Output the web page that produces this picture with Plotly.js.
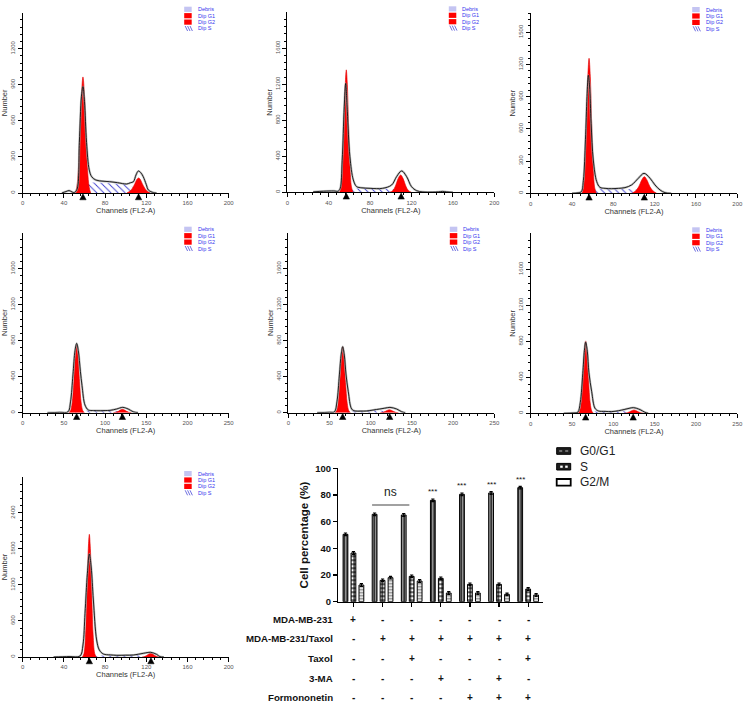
<!DOCTYPE html>
<html><head><meta charset="utf-8">
<script src="https://cdn.plot.ly/plotly-3.0.1.min.js"></script>
<style>html,body{margin:0;padding:0;background:#fff}#chart{width:745px;height:706px}</style>
</head><body><div id="chart"></div>
<script>
// ================= DATA =================
// Flow cytometry histograms (7 panels).
// Measured histogram outline (channel, count)
const outlineX = [
  [38, 42, 45, 48, 50, 52.7, 55, 57, 58.5, 60, 62, 64.6, 67, 71, 78, 84.5, 92, 101, 104.5, 107.5, 110, 112.3, 115, 117, 120, 122, 127, 130],
  [25, 35, 45, 49, 51, 53, 55, 56.4, 58, 60.5, 63.8, 67, 72, 80, 92, 100.8, 105.6, 110.5, 115.3, 120, 125, 131, 140, 146, 150, 154, 160],
  [40, 46, 49, 51, 53, 54.5, 55.8, 57, 58.5, 60.6, 63.9, 67, 72, 78.4, 85, 91.3, 97.7, 104.2, 109.7, 115.5, 120.3, 125.2, 130, 136],
  [30, 45, 55, 58, 61, 63.5, 65.5, 67.5, 70, 72, 75.6, 79.7, 86, 94, 100, 106, 114, 121.4, 128, 134, 140],
  [35, 50, 56, 59, 62, 64.2, 66, 68, 70, 72.8, 76.9, 81, 88, 95, 103, 111, 117, 123.4, 131.5, 137.5, 142],
  [40, 52, 57, 60, 63, 65, 66.5, 68.5, 70.5, 73.8, 77.8, 81.9, 90, 98, 106, 114, 119, 124.2, 132.3, 138.3, 142.3],
  [30, 45, 55.7, 58.5, 60.5, 62.8, 64.7, 66.5, 68.6, 71.8, 74.4, 78.3, 85, 91.3, 100, 107.4, 117, 124.3, 130, 133.3, 137]
];
const outlineY = [
  [0, 12, 20, 8, 4, 30, 420, 800, 885, 760, 420, 192, 135, 108, 98, 94, 86, 75, 85, 94, 150, 183, 165, 136, 70, 25, 3, 0],
  [5, 12, 15, 12, 40, 350, 950, 1210, 900, 396, 137, 63, 50, 44, 44, 81, 174, 237, 174, 63, 18, 4, 2, 5, 10, 5, 0],
  [0, 5, 15, 120, 500, 900, 1100, 1000, 650, 310, 109, 56, 46, 43, 46, 53, 78, 140, 186, 140, 78, 31, 6, 0],
  [0, 4, 10, 120, 420, 690, 770, 690, 460, 300, 85, 30, 24, 22, 24, 26, 41, 59, 41, 11, 0],
  [0, 5, 10, 120, 420, 650, 733, 640, 430, 233, 41, 19, 18, 19, 30, 41, 50, 59, 41, 11, 0],
  [0, 4, 12, 120, 440, 700, 790, 690, 450, 240, 56, 26, 21, 19, 28, 44, 55, 63, 41, 11, 0],
  [0, 8, 17, 200, 728, 1394, 1717, 1500, 950, 283, 117, 50, 35, 28, 30, 33, 61, 78, 44, 6, 0]
];
// Dip G1 fitted peak
const g1X = [
  [51, 52.5, 54, 55.5, 57, 58.5, 60, 61.5, 63, 64.5, 66],
  [50.5, 52, 53.5, 55, 56, 57, 58, 59, 60.5, 62, 63.5],
  [49.5, 51, 52.5, 54, 55.3, 56.5, 57.7, 59, 60.5, 62, 63.5],
  [56, 58, 60, 62, 64, 65.5, 67, 69, 71, 73, 75],
  [56.5, 58.5, 60.5, 62.5, 64.5, 66, 67.5, 69.5, 71.5, 73.5, 75.5],
  [57, 59, 61, 63, 65, 66.5, 68, 70, 72, 74, 76],
  [58, 59.5, 61, 62.5, 63.7, 64.7, 65.7, 66.9, 68.4, 69.9, 71.4]
];
const g1Y = [
  [0, 50, 190, 470, 810, 965, 810, 470, 190, 50, 0],
  [0, 60, 300, 820, 1200, 1360, 1200, 820, 300, 60, 0],
  [0, 50, 240, 660, 1090, 1258, 1090, 660, 240, 50, 0],
  [0, 21, 109, 344, 652, 752, 652, 344, 109, 21, 0],
  [0, 21, 106, 335, 635, 733, 635, 335, 106, 21, 0],
  [0, 23, 116, 368, 697, 804, 697, 368, 116, 23, 0],
  [0, 60, 370, 1120, 1810, 2044, 1810, 1120, 370, 60, 0]
];
// Dip G2 fitted peak
const g2X = [
  [101, 104, 106.5, 109, 111, 112.5, 114, 116, 118.5, 121, 124],
  [99, 102, 104.5, 107, 109.5, 112, 114.5, 117, 120],
  [98, 101.5, 104.5, 107.5, 110, 112.5, 115.5, 118.5, 122],
  [110, 113.5, 116.5, 119, 121, 123, 125.5, 128.5, 132],
  [111.5, 115, 118, 120.5, 122.6, 124.7, 127.2, 130.2, 133.7],
  [113, 117, 120, 123, 125, 127, 130, 133, 137],
  [116, 118.5, 120.5, 122.5, 124.3, 126.1, 128.1, 130.1, 132.6]
];
const g2Y = [
  [0, 15, 40, 80, 115, 125, 115, 80, 40, 15, 0],
  [0, 20, 70, 150, 193, 150, 70, 20, 0],
  [0, 22, 60, 125, 155, 125, 60, 22, 0],
  [0, 6, 18, 32, 37, 32, 18, 6, 0],
  [0, 5, 16, 28, 33, 28, 16, 5, 0],
  [0, 6, 18, 32, 37, 32, 18, 6, 0],
  [0, 8, 27, 50, 61, 50, 27, 8, 0]
];
// Dip S fitted region
const sX = [
  [57, 60, 63, 66, 75, 85, 95, 102, 106, 110, 114],
  [54, 58, 62, 70, 80, 90, 100, 105, 108, 111],
  [53, 57, 62, 70, 80, 90, 98, 104, 108, 112],
  [63, 68, 73, 80, 90, 100, 108, 114, 118, 122],
  [64, 69, 74, 80, 90, 100, 110, 116, 120, 124],
  [64, 69, 74, 80, 90, 100, 110, 117, 121, 125],
  [62, 66, 70, 78, 90, 100, 110, 116, 120, 124]
];
const sY = [
  [0, 40, 75, 85, 86, 82, 75, 68, 55, 25, 0],
  [0, 25, 40, 42, 42, 40, 38, 30, 15, 0],
  [0, 25, 40, 42, 42, 40, 38, 32, 15, 0],
  [0, 15, 22, 24, 24, 24, 23, 18, 8, 0],
  [0, 12, 18, 20, 22, 26, 25, 18, 8, 0],
  [0, 12, 18, 20, 22, 25, 26, 20, 8, 0],
  [0, 15, 22, 25, 25, 26, 28, 22, 10, 0]
];
// Peak means (triangle markers)
const g1Mean = [58.5, 57, 56.5, 65.5, 66, 66.5, 64.7];
const g2Mean = [112.5, 110, 110, 121, 123, 124, 124.5];
const histLegend = ['Debris', 'Dip G1', 'Dip G2', 'Dip S'];

// Bar chart
const phases = ['G0/G1', 'S', 'G2/M'];
const g0g1 = [50.5, 65.5, 65, 76, 80.5, 81.5, 85.5];
const sPhase = [36.5, 16, 19, 17.5, 13, 13, 9.5];
const g2m = [12.5, 18, 15.5, 6.5, 6.5, 5.5, 5];
const g0g1Err = [1, 1, 1, 1, 1, 1, 1];
const sErr = [1, 1, 1, 1, 1, 1, 1];
const g2mErr = [1, 1, 1, 1, 1, 1, 1];
const sigLabels = ['', '', '', '***', '***', '***', '***'];
const groupIdx = [0, 1, 2, 3, 4, 5, 6];
const yTicks = [0, 20, 40, 60, 80, 100];

// Treatment table
const rowNames = ['MDA-MB-231', 'MDA-MB-231/Taxol', 'Taxol', '3-MA', 'Formononetin'];
const rowMDA = ['+', '-', '-', '-', '-', '-', '-'];
const rowMDATaxol = ['-', '+', '+', '+', '+', '+', '+'];
const rowTaxol = ['-', '-', '+', '-', '-', '-', '+'];
const rowMA = ['-', '-', '-', '+', '-', '+', '-'];
const rowFormo = ['-', '-', '-', '-', '+', '+', '+'];
const tableRows = [rowMDA, rowMDATaxol, rowTaxol, rowMA, rowFormo];

// ================= LAYOUT HELPERS =================
const W = 745, H = 706;
const FONT = 'Liberation Sans, Arial, Helvetica, sans-serif';
const px2x = p => p / W;
const px2y = p => 1 - p / H;

const boxes = [
  {l: 22.7, r: 228.7, t: 12.7, b: 193},
  {l: 287.3, r: 494.3, t: 12.3, b: 192.3},
  {l: 530.7, r: 737.3, t: 13, b: 193.3},
  {l: 22.7, r: 228.7, t: 232.7, b: 412.7},
  {l: 288.3, r: 494.3, t: 232.7, b: 412.7},
  {l: 530.7, r: 737.3, t: 233.3, b: 413.3},
  {l: 22.7, r: 228.7, t: 477, b: 657}
];
const xMax = [200, 200, 200, 250, 250, 250, 200];
const xDtick = [40, 40, 40, 50, 50, 50, 40];
const yMax = [1499, 1999, 1680, 1999, 1999, 1999, 2999];
const yDtick = [300, 400, 300, 400, 400, 400, 600];

const traces = [];
const layout = {
  width: W, height: H, autosize: false,
  margin: {l: 0, r: 0, t: 0, b: 0, pad: 0},
  paper_bgcolor: '#fff', plot_bgcolor: 'rgba(0,0,0,0)',
  showlegend: false,
  font: {family: FONT, color: '#222'},
  barmode: 'group', bargap: 0.18, bargroupgap: 0.4,
  shapes: [], annotations: []
};

for (let i = 0; i < 7; i++) {
  const n = i === 0 ? '' : String(i + 1);
  const xa = 'x' + n, ya = 'y' + n;
  const b = boxes[i];
  const common = {xaxis: xa, yaxis: ya, hoverinfo: 'skip', showlegend: false};
  // S region (hatched)
  traces.push(Object.assign({
    type: 'scatter', mode: 'lines', x: sX[i], y: sY[i],
    fill: 'tozeroy', fillcolor: 'rgba(255,255,255,0)',
    fillpattern: {shape: '\\', fgcolor: '#3c3cd0', bgcolor: 'rgba(255,255,255,0)', size: 5, solidity: 0.18},
    line: {width: 0, shape: 'spline', color: '#3c3cd0'}
  }, common));
  // G1 and G2 peaks
  [[g1X[i], g1Y[i]], [g2X[i], g2Y[i]]].forEach(([px, py]) => {
    traces.push(Object.assign({
      type: 'scatter', mode: 'lines', x: px, y: py,
      fill: 'tozeroy', fillcolor: '#ff0000',
      line: {width: 0.6, shape: 'spline', color: '#e00000'}
    }, common));
  });
  // outline halo + outline
  traces.push(Object.assign({
    type: 'scatter', mode: 'lines', x: outlineX[i], y: outlineY[i],
    line: {width: 2.2, shape: 'spline', color: 'rgba(170,170,170,0.75)'}
  }, common));
  traces.push(Object.assign({
    type: 'scatter', mode: 'lines', x: outlineX[i], y: outlineY[i],
    line: {width: 0.9, shape: 'spline', color: '#111'}
  }, common));

  // peak triangles just under the x axis (x in data, y in paper)
  const hw = 3.2 * xMax[i] / (b.r - b.l);
  [g1Mean[i], g2Mean[i]].forEach(m => {
    const yTip = px2y(b.b + 0.8), yBase = px2y(b.b + 6.8);
    layout.shapes.push({type: 'path', xref: xa, yref: 'paper', layer: 'above',
      path: `M${m - hw},${yBase} L${m},${yTip} L${m + hw},${yBase} Z`,
      fillcolor: '#000', line: {color: '#000', width: 0.5}});
  });

  layout['xaxis' + n] = {
    domain: [px2x(b.l), px2x(b.r)], anchor: ya,
    range: [0, xMax[i]], tickmode: 'linear', tick0: 0, dtick: xDtick[i],
    ticks: 'outside', ticklen: 4, tickwidth: 1, tickcolor: '#000',
    minor: {dtick: xDtick[i] / 5, tick0: 0, ticks: 'outside', ticklen: 2, tickwidth: 1, tickcolor: '#000'},
    showline: true, linecolor: '#000', linewidth: 1, showgrid: false, zeroline: false,
    tickfont: {family: FONT, size: 6, color: '#555'},
    title: {text: 'Channels (FL2-A)', font: {family: FONT, size: 7.5, color: '#333'}, standoff: 1},
    automargin: false, fixedrange: true
  };
  layout['yaxis' + n] = {
    domain: [px2y(b.b), px2y(b.t)], anchor: xa,
    range: [0, yMax[i]], tickmode: 'linear', tick0: 0, dtick: yDtick[i],
    ticks: 'outside', ticklen: 4, tickwidth: 1, tickcolor: '#000',
    minor: {dtick: yDtick[i] / 5, tick0: 0, ticks: 'outside', ticklen: 2, tickwidth: 1, tickcolor: '#000'},
    tickangle: -90,
    showline: true, linecolor: '#000', linewidth: 1, showgrid: false, zeroline: false,
    tickfont: {family: FONT, size: 6, color: '#555'},
    title: {text: 'Number', font: {family: FONT, size: 7.5, color: '#333'}, standoff: 1},
    automargin: false, fixedrange: true
  };

  // per-panel legend
  const rowOff = [-3.4, 3, 9.4, 15.8];
  histLegend.forEach((lab, k) => {
    const cy = b.t + rowOff[k];
    const x0 = b.l + 161.5, x1 = b.l + 169;
    if (k < 3) {
      layout.shapes.push({type: 'rect', xref: 'paper', yref: 'paper',
        x0: px2x(x0), x1: px2x(x1), y0: px2y(cy + 2.6), y1: px2y(cy - 2.6),
        fillcolor: k === 0 ? '#c4c4f2' : '#ff0000', line: {width: 0}});
    } else {
      let path = '';
      for (let q = 0; q < 3; q++) {
        const sx = x0 + 1 + q * 2.4;
        path += `M${px2x(sx)},${px2y(cy - 2.5)} L${px2x(sx + 2.4)},${px2y(cy + 2.5)} `;
      }
      layout.shapes.push({type: 'path', xref: 'paper', yref: 'paper', path: path,
        line: {color: '#4a4ad8', width: 0.8}});
    }
    layout.annotations.push({xref: 'paper', yref: 'paper', x: px2x(b.l + 173), y: px2y(cy),
      xanchor: 'left', yanchor: 'middle', showarrow: false, text: lab,
      font: {family: FONT, size: 5.5, color: '#3434ee'}});
  });
}

// ================= BAR CHART =================
const barStyles = [
  {color: '#3a3a3a', pattern: {shape: '|', fgcolor: '#c8c8c8', bgcolor: '#333333', size: 3, solidity: 0.3}},
  {color: '#222222', pattern: {shape: '.', fgcolor: '#ffffff', bgcolor: '#1e1e1e', size: 4, solidity: 0.4}},
  {color: '#d8d8d8', pattern: {shape: '-', fgcolor: '#777777', bgcolor: '#e4e4e4', size: 3, solidity: 0.3}}
];
[[g0g1, g0g1Err], [sPhase, sErr], [g2m, g2mErr]].forEach(([vals, errs], k) => {
  traces.push({
    type: 'bar', name: phases[k], x: groupIdx, y: vals, xaxis: 'x8', yaxis: 'y8',
    marker: {color: barStyles[k].color, pattern: barStyles[k].pattern, line: {color: '#000', width: 1}},
    error_y: {type: 'data', array: errs, visible: true, color: '#000', thickness: 1.2, width: 1.6},
    hoverinfo: 'skip', showlegend: false
  });
});
const bar = {l: 338.3, r: 543.3, t: 468.3, b: 601.7};
layout.xaxis8 = {
  domain: [px2x(bar.l), px2x(bar.r)], anchor: 'y8', range: [-0.52, 6.52],
  tickmode: 'array', tickvals: groupIdx, showticklabels: false,
  ticks: 'outside', ticklen: 4, tickwidth: 1.3, tickcolor: '#000',
  showline: true, linecolor: '#000', linewidth: 1.3, showgrid: false, zeroline: false,
  automargin: false, fixedrange: true
};
layout.yaxis8 = {
  domain: [px2y(bar.b), px2y(bar.t)], anchor: 'x8', range: [0, 100],
  tickmode: 'array', tickvals: yTicks,
  ticks: 'outside', ticklen: 4, tickwidth: 1.3, tickcolor: '#000',
  showline: true, linecolor: '#000', linewidth: 1.3, showgrid: false, zeroline: false,
  tickfont: {family: FONT, size: 9.5, color: '#111', weight: 'bold'},
  title: {text: '<b>Cell percentage (%)</b>', font: {family: FONT, size: 11.5, color: '#111'}, standoff: 4},
  automargin: false, fixedrange: true
};

// significance
groupIdx.forEach(j => {
  if (sigLabels[j]) {
    layout.annotations.push({xref: 'x8', yref: 'y8', x: j, y: g0g1[j] + g0g1Err[j] + 0.5,
      xshift: -8, xanchor: 'center', yanchor: 'bottom', showarrow: false, text: sigLabels[j],
      font: {family: FONT, size: 8, color: '#111'}});
  }
});
layout.shapes.push({type: 'line', xref: 'x8', yref: 'y8', x0: 0.64, x1: 1.92, y0: 72.5, y1: 72.5,
  line: {color: '#444', width: 1.2}});
layout.annotations.push({xref: 'x8', yref: 'y8', x: 1.26, y: 82.5, xanchor: 'center', yanchor: 'middle',
  showarrow: false, text: 'ns', font: {family: FONT, size: 12, color: '#222'}});

// bar legend (manual)
const legRows = [451, 466.7, 482.3];
phases.forEach((p, k) => {
  const cy = legRows[k];
  const x0 = 556.7, x1 = 570.7;
  layout.shapes.push({type: 'rect', xref: 'paper', yref: 'paper',
    x0: px2x(x0), x1: px2x(x1), y0: px2y(cy + 3.3), y1: px2y(cy - 3.3),
    fillcolor: k === 2 ? '#ffffff' : '#1e1e1e', line: {color: '#000', width: k === 2 ? 1.8 : 1}});
  if (k === 0) {
    layout.shapes.push({type: 'line', xref: 'paper', yref: 'paper',
      x0: px2x(x0 + 2.5), x1: px2x(x1 - 2.5), y0: px2y(cy), y1: px2y(cy),
      line: {color: '#bbbbbb', width: 1.2, dash: 'dot'}});
  } else if (k === 1) {
    [x0 + 3.5, x0 + 8.5].forEach(sx => {
      layout.shapes.push({type: 'rect', xref: 'paper', yref: 'paper',
        x0: px2x(sx), x1: px2x(sx + 2.5), y0: px2y(cy + 1.1), y1: px2y(cy - 1.1),
        fillcolor: '#ffffff', line: {width: 0}});
    });
  }
  layout.annotations.push({xref: 'paper', yref: 'paper', x: px2x(578), y: px2y(cy),
    xanchor: 'left', yanchor: 'middle', showarrow: false, text: p,
    font: {family: FONT, size: 12, color: '#222'}});
});

// treatment table
const rowY0 = 619, rowStep = 19.7;
rowNames.forEach((name, r) => {
  const y = px2y(rowY0 + r * rowStep);
  layout.annotations.push({xref: 'paper', yref: 'paper', x: px2x(335), y: y,
    xanchor: 'right', yanchor: 'middle', showarrow: false, text: '<b>' + name + '</b>',
    font: {family: FONT, size: 9.7, color: '#111'}});
  tableRows[r].forEach((sym, j) => {
    layout.annotations.push({xref: 'x8', yref: 'paper', x: groupIdx[j], y: y,
      xanchor: 'center', yanchor: 'middle', showarrow: false, text: '<b>' + sym + '</b>',
      font: {family: FONT, size: 10, color: '#111'}});
  });
});

Plotly.newPlot('chart', traces, layout, {staticPlot: true, displayModeBar: false});
</script>
</body></html>
